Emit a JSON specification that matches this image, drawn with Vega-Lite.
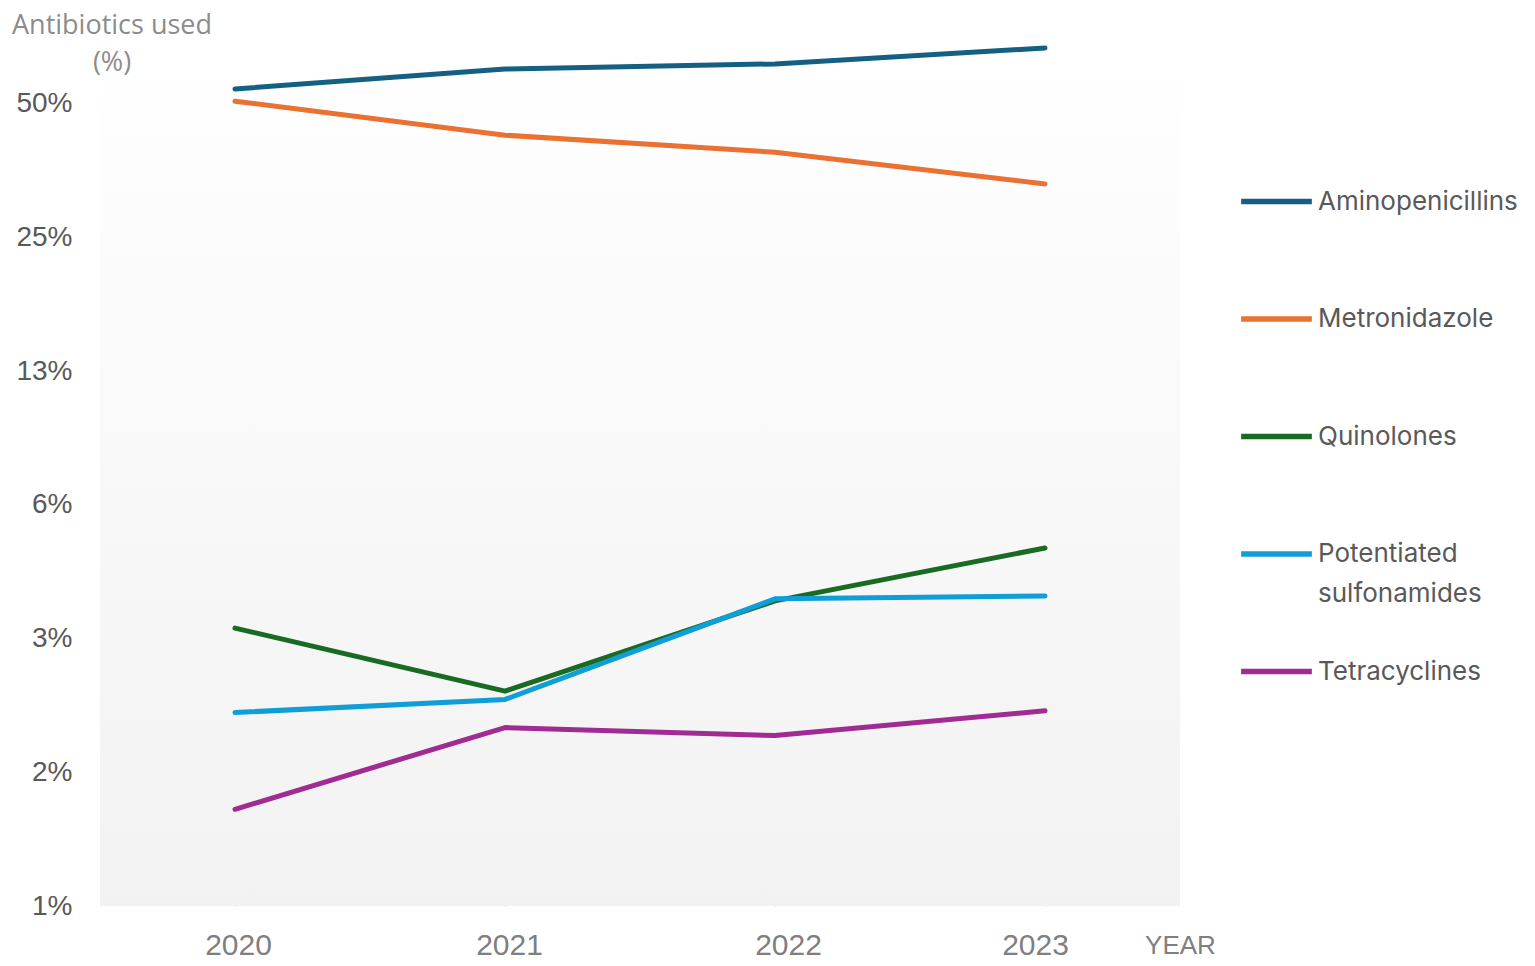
{
  "$schema": "https://vega.github.io/schema/vega-lite/v6.json",
  "width": 1080,
  "height": 864,
  "autosize": "none",
  "padding": {"left": 100, "top": 42, "right": 355, "bottom": 60},
  "background": "white",
  "title": {
    "text": "Antibiotics used",
    "subtitle": "(%)",
    "anchor": "start",
    "frame": "group",
    "align": "center",
    "dx": 12,
    "offset": -35,
    "font": "Open Sans",
    "fontSize": 27,
    "fontWeight": "normal",
    "color": "#8c8c8c",
    "subtitleFont": "Open Sans",
    "subtitleFontSize": 27,
    "subtitleColor": "#8c8c8c",
    "subtitlePadding": 10
  },
  "config": {
    "view": {"stroke": null},
    "axis": {"domain": false, "ticks": false},
    "style": {"guide-label": {"lineHeight": 40}}
  },
  "layer": [
    {
      "data": {"values": [{}]},
      "mark": {
        "type": "rect",
        "fill": {
          "gradient": "linear",
          "x1": 0, "y1": 0, "x2": 0, "y2": 1,
          "stops": [
            {"offset": 0, "color": "#ffffff"},
            {"offset": 1, "color": "#f2f2f2"}
          ]
        }
      },
      "encoding": {}
    },
    {
      "data": {
        "values": [
          {"year": "2020", "antibiotic": "Aminopenicillins", "pct": 54.0},
          {"year": "2021", "antibiotic": "Aminopenicillins", "pct": 59.9},
          {"year": "2022", "antibiotic": "Aminopenicillins", "pct": 61.5},
          {"year": "2023", "antibiotic": "Aminopenicillins", "pct": 66.8},
          {"year": "2020", "antibiotic": "Metronidazole", "pct": 50.7},
          {"year": "2021", "antibiotic": "Metronidazole", "pct": 42.5},
          {"year": "2022", "antibiotic": "Metronidazole", "pct": 38.9},
          {"year": "2023", "antibiotic": "Metronidazole", "pct": 33.0},
          {"year": "2020", "antibiotic": "Quinolones", "pct": 3.30},
          {"year": "2021", "antibiotic": "Quinolones", "pct": 2.38},
          {"year": "2022", "antibiotic": "Quinolones", "pct": 3.80},
          {"year": "2023", "antibiotic": "Quinolones", "pct": 5.00},
          {"year": "2020", "antibiotic": "Potentiated sulfonamides", "pct": 2.13},
          {"year": "2021", "antibiotic": "Potentiated sulfonamides", "pct": 2.28},
          {"year": "2022", "antibiotic": "Potentiated sulfonamides", "pct": 3.84},
          {"year": "2023", "antibiotic": "Potentiated sulfonamides", "pct": 3.90},
          {"year": "2020", "antibiotic": "Tetracyclines", "pct": 1.29},
          {"year": "2021", "antibiotic": "Tetracyclines", "pct": 1.97},
          {"year": "2022", "antibiotic": "Tetracyclines", "pct": 1.89},
          {"year": "2023", "antibiotic": "Tetracyclines", "pct": 2.15}
        ]
      },
      "mark": {"type": "line", "strokeWidth": 5, "strokeCap": "round", "strokeJoin": "round"},
      "encoding": {
        "x": {
          "field": "year",
          "type": "ordinal",
          "scale": {"type": "point", "padding": 0.5},
          "axis": {
            "title": "YEAR",
            "titleX": 1080,
            "titleY": 47,
            "titleAlign": "center",
            "titleBaseline": "alphabetic",
            "titleFont": "Liberation Sans",
            "titleFontSize": 26,
            "titleFontWeight": "normal",
            "titleColor": "#7f7f7f",
            "labelAngle": 0,
            "labelFont": "Liberation Sans",
            "labelFontSize": 30,
            "labelColor": "#7f7f7f",
            "labelPadding": 24,
            "labelOffset": {
              "condition": [
                {"test": "datum.value == '2021'", "value": 4},
                {"test": "datum.value == '2022'", "value": 13},
                {"test": "datum.value == '2023'", "value": -10}
              ],
              "value": 3
            },
            "grid": true,
            "gridColor": "#d9d9d9",
            "gridWidth": 2
          }
        },
        "y": {
          "field": "pct",
          "type": "quantitative",
          "title": null,
          "scale": {"type": "log", "base": 2, "domain": [0.78125, 68.9], "nice": false},
          "axis": {
            "values": [0.78125, 1.5625, 3.125, 6.25, 12.5, 25, 50],
            "labelExpr": "round(datum.value) + '%'",
            "labelFont": "Liberation Sans",
            "labelFontSize": 28,
            "labelColor": "#595959",
            "labelPadding": 28,
            "grid": false
          }
        },
        "color": {
          "field": "antibiotic",
          "type": "nominal",
          "scale": {
            "domain": ["Aminopenicillins", "Metronidazole", "Quinolones", "Potentiated sulfonamides", "Tetracyclines"],
            "range": ["#156082", "#E97132", "#196B24", "#0F9ED5", "#A02B93"]
          },
          "legend": {
            "title": null,
            "orient": "none",
            "legendX": 1138,
            "legendY": 121,
            "symbolType": "stroke",
            "symbolSize": 5000,
            "symbolStrokeWidth": 5.5,
            "labelExpr": "datum.label == 'Potentiated sulfonamides' ? ['Potentiated', 'sulfonamides'] : datum.label",
            "labelFont": "Inter",
            "labelFontSize": 26,
            "labelColor": "#595959",
            "labelOffset": 3,
            "labelLimit": 400,
            "gridAlign": "all",
            "rowPadding": 25.5
          }
        }
      }
    }
  ]
}
